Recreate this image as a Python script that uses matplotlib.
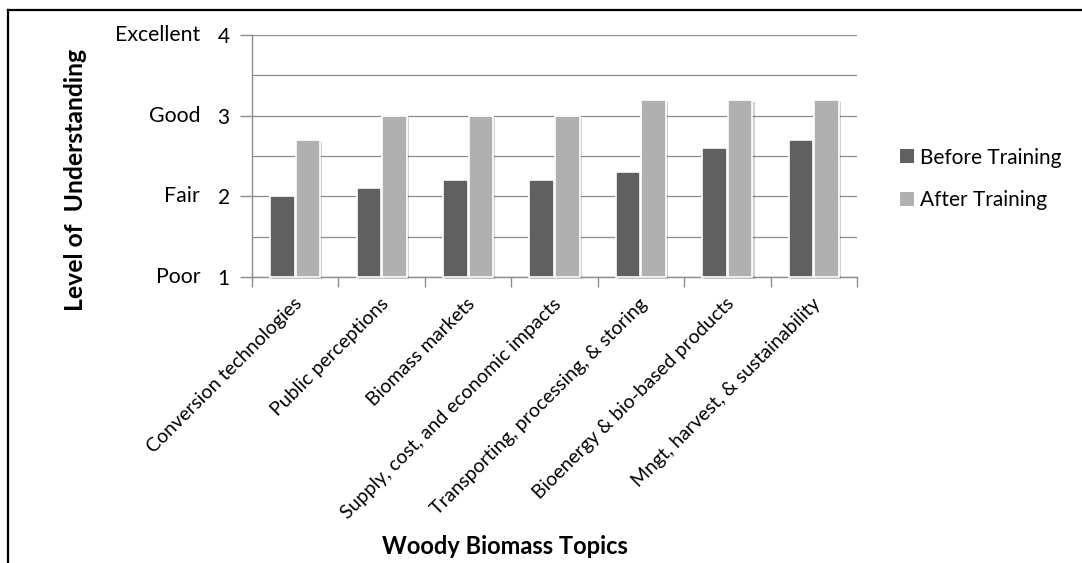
#!/usr/bin/env python3

import numpy as np
import matplotlib
matplotlib.use("Agg")
import matplotlib.pyplot as plt
import matplotlib.patheffects as pe
from matplotlib.lines import Line2D
from matplotlib.patches import Patch
from matplotlib.transforms import blended_transform_factory, ScaledTranslation

plt.rcParams['font.family'] = ['Lato', 'DejaVu Sans']

TOPICS = [
  "Conversion technologies",
  "Public perceptions",
  "Biomass markets",
  "Supply, cost, and economic impacts",
  "Transporting, processing, & storing",
  "Bioenergy & bio-based products",
  "Mngt, harvest, & sustainability",
]
BEFORE = [2.0, 2.1, 2.2, 2.2, 2.3, 2.6, 2.7]
AFTER = [2.7, 3.0, 3.0, 3.0, 3.2, 3.2, 3.2]
LEVELS = [1, 2, 3, 4]
LEVEL_NAMES = ["Poor", "Fair", "Good", "Excellent"]

DARK = "#606060"
LIGHT = "#b0b0b0"
GRID = "#8c8c8c"

W, H, DPI = 1082, 563, 100

def draw():
  fig = plt.figure(figsize=(W / DPI, H / DPI), dpi=DPI)
  ax = fig.add_axes([252 / W, 1 - 277 / H, 605 / W, 242 / H])

  x = np.arange(len(TOPICS))
  bw = 0.285
  shadow = [pe.withSimplePatchShadow(offset=(1.5, -1.5), shadow_rgbFace="k", alpha=0.18)]
  for vals, dx, color in [(BEFORE, -0.148, DARK), (AFTER, 0.148, LIGHT)]:
    v = np.array(vals)
    ax.bar(x + dx, v - 1, bottom=1, width=bw, color=color, edgecolor="white",
           linewidth=1.2, path_effects=shadow, zorder=3, clip_on=False)

  ax.set_xlim(-0.5, len(TOPICS) - 0.5)
  ax.set_ylim(1, 4)

  # grid every half step, ticks only on whole levels
  ax.set_yticks(LEVELS)
  ax.set_yticks([1.5, 2.5, 3.5], minor=True)
  ax.grid(axis="y", which="both", color=GRID, linewidth=0.9, zorder=0)
  ax.tick_params(axis="y", which="major", direction="out", length=9, width=1,
                 color=GRID, pad=7, labelsize=15)
  ax.tick_params(axis="y", which="minor", length=0)

  # group boundaries get the tick marks, names sit under the group centres
  ax.set_xticks(np.arange(len(TOPICS) + 1) - 0.5)
  ax.set_xticklabels([])
  ax.set_xticks(x, minor=True)
  ax.set_xticklabels(TOPICS, minor=True, rotation=45, ha="right", va="top", fontsize=14)
  ax.tick_params(axis="x", which="major", direction="out", length=7, width=1, color=GRID)
  ax.tick_params(axis="x", which="minor", length=0, pad=13)
  shift = ScaledTranslation(10 / DPI, 0, fig.dpi_scale_trans)
  for lbl in ax.get_xticklabels(minor=True):
    lbl.set_transform(lbl.get_transform() + shift)

  for side in ["top", "right"]:
    ax.spines[side].set_visible(False)
  for side in ["left", "bottom"]:
    ax.spines[side].set_color(GRID)
    ax.spines[side].set_linewidth(1.0)

  # word names for the rating scale, left of the numbers
  tr = blended_transform_factory(fig.transFigure, ax.transData)
  for lv, name in zip(LEVELS, LEVEL_NAMES):
    ax.text(200 / W, lv, name, transform=tr, ha="right", va="center", fontsize=15.3)

  fig.text(76 / W, 1 - 180 / H, "Level of  Understanding", rotation=90,
           ha="center", va="center", fontsize=17.8, fontweight="bold")
  fig.text(505 / W, 1 - 547 / H, "Woody Biomass Topics",
           ha="center", va="center", fontsize=17, fontweight="bold")

  handles = [Patch(facecolor=DARK, edgecolor="none"), Patch(facecolor=LIGHT, edgecolor="none")]
  fig.legend(handles, ["Before Training", "After Training"], loc="center left",
             bbox_to_anchor=(900 / W, 1 - 179 / H), frameon=False, fontsize=15,
             handlelength=0.65, handleheight=0.65, handletextpad=0.3,
             labelspacing=1.1, borderpad=0, borderaxespad=0)

  # outer frame on the left and top edges
  fig.add_artist(Line2D([8 / W, 8 / W], [0, 1 - 10 / H], transform=fig.transFigure,
                        color="black", linewidth=1.6))
  fig.add_artist(Line2D([8 / W, 1], [1 - 10 / H, 1 - 10 / H], transform=fig.transFigure,
                        color="black", linewidth=1.6))

  fig.savefig("out.png", dpi=DPI)

if __name__ == "__main__":
  draw()
